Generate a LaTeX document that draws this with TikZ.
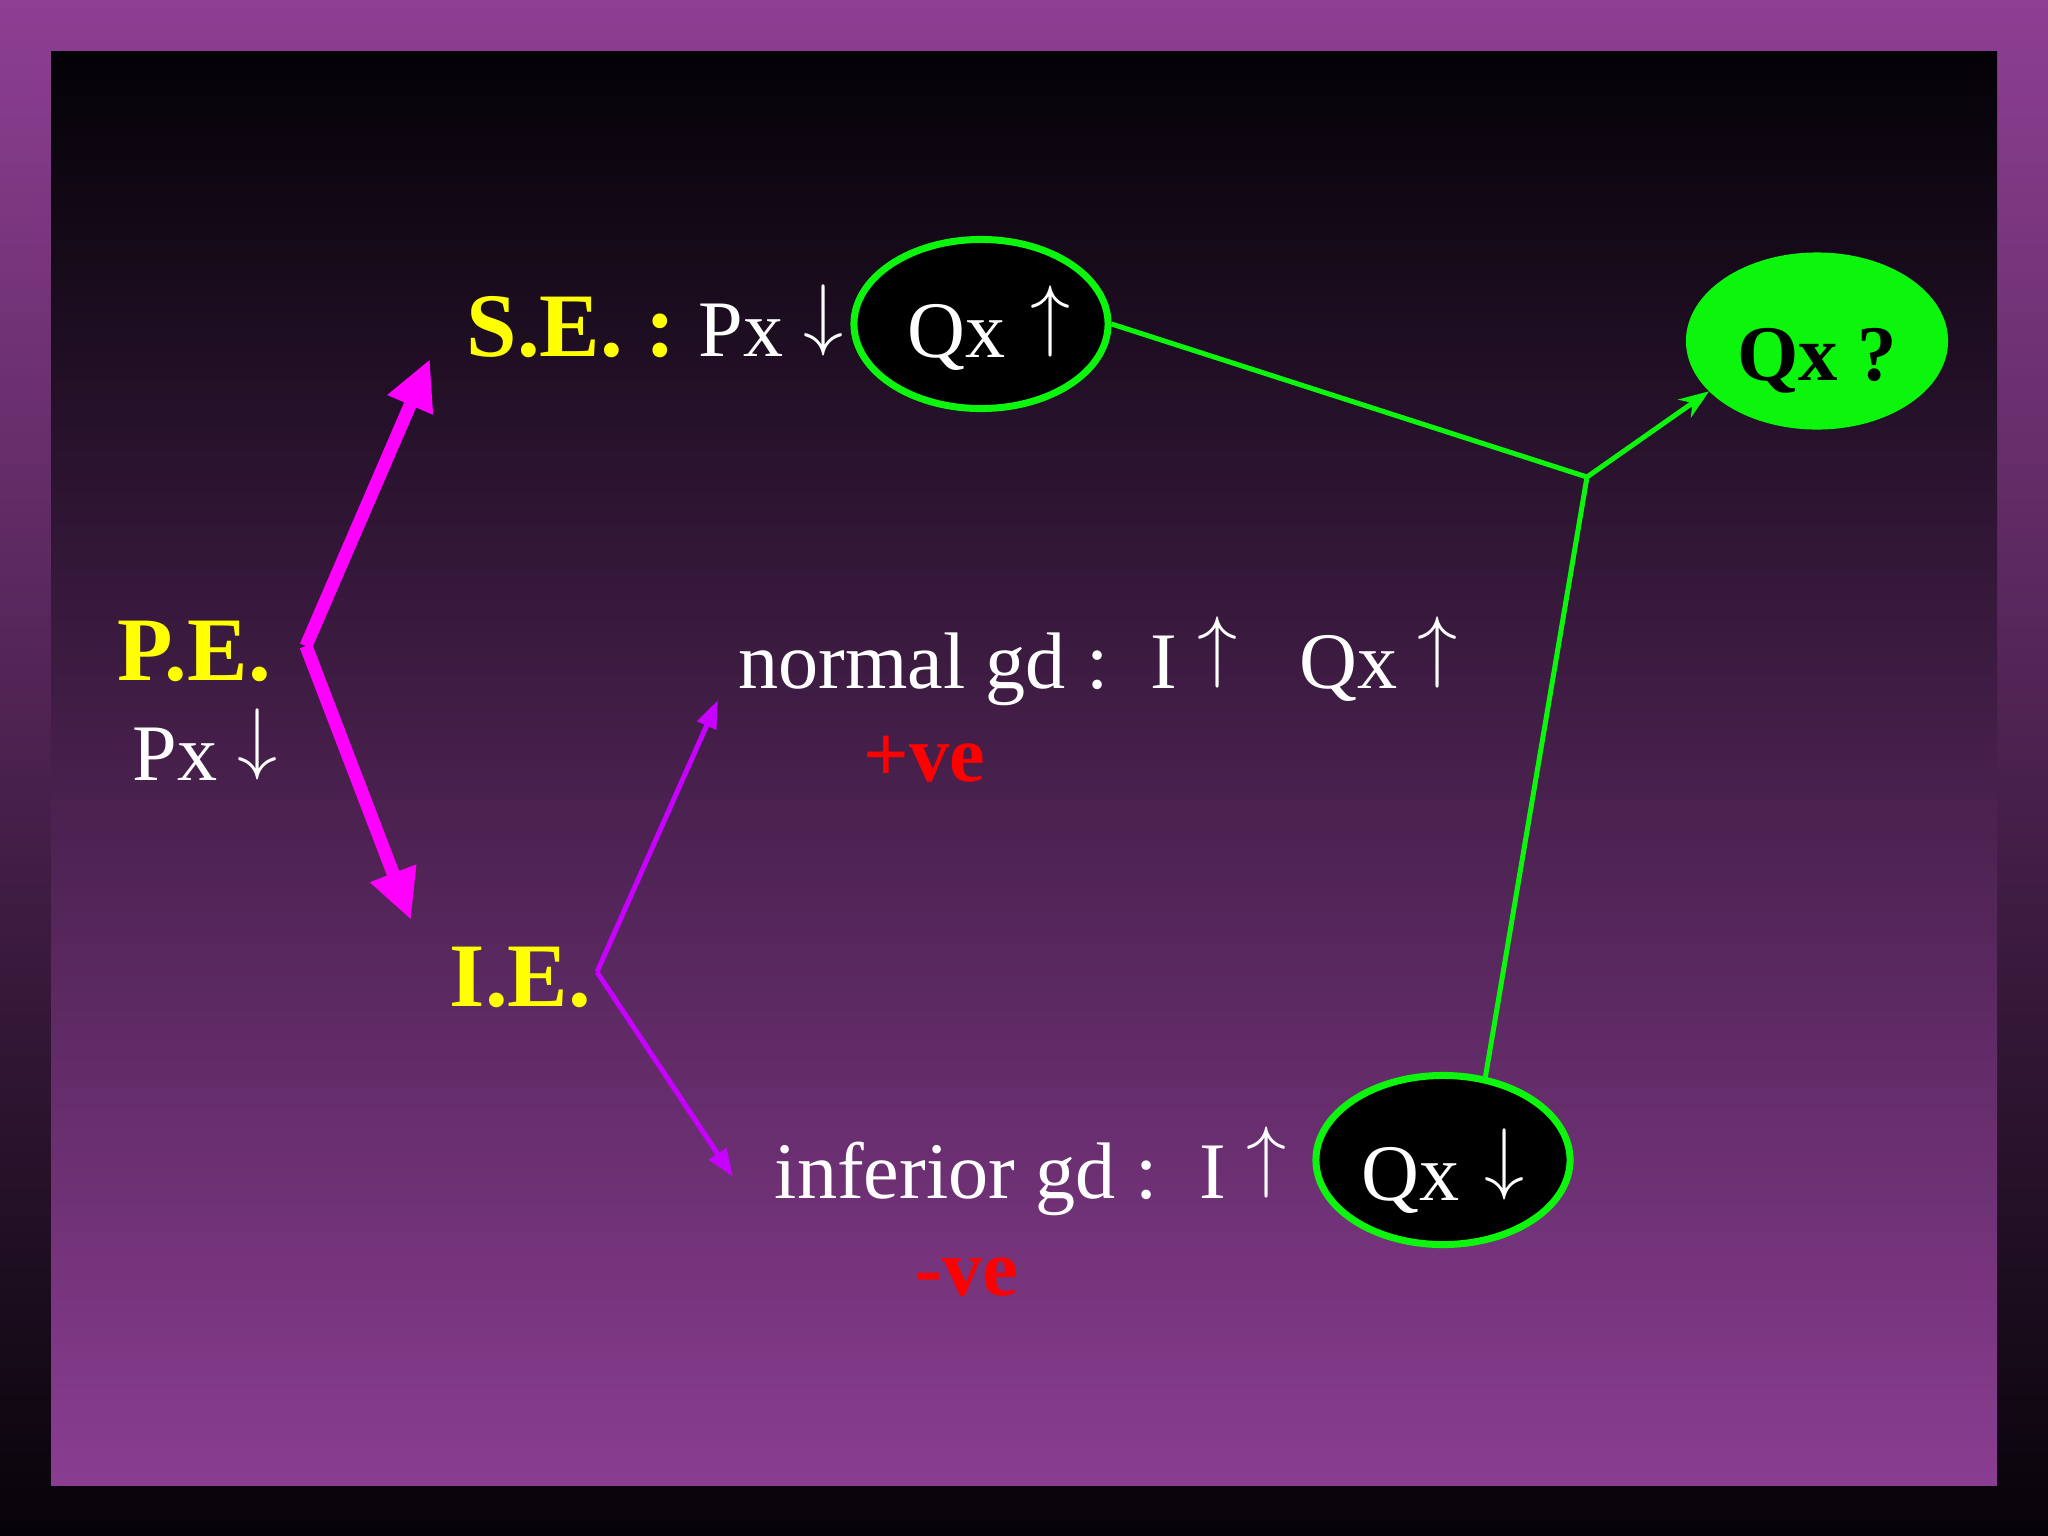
\RequirePackage{fix-cm}
\documentclass[tikz,border=0pt]{standalone}
\usepackage{fontspec}
\setmainfont{Liberation Serif}
\usetikzlibrary{arrows.meta,shapes.geometric}
\definecolor{outertop}{HTML}{8E3F93}
\definecolor{outerbot}{HTML}{060308}
\definecolor{innertop}{HTML}{030206}
\definecolor{innerbot}{HTML}{8A3D91}
\definecolor{qgreen}{HTML}{0CF50C}
\definecolor{pemag}{HTML}{FF00FF}
\definecolor{ieviolet}{HTML}{C800FF}
\definecolor{ylw}{HTML}{FFFF00}
\definecolor{rd}{HTML}{FF0000}
\newcommand\uar{\raisebox{0.194em}{$\uparrow$}}
\newcommand\dar{\raisebox{0.194em}{$\downarrow$}}
\begin{document}
\begin{tikzpicture}[x=0.01cm,y=-0.01cm,
  wtext/.style={font=\fontsize{22.8}{27}\selectfont, text=white, inner sep=0pt, anchor=base west},
  ytext/.style={font=\fontsize{25.8}{30}\selectfont\bfseries, text=ylw, inner sep=0pt, anchor=base west},
  rtext/.style={font=\fontsize{22.8}{27}\selectfont\bfseries, text=rd, inner sep=0pt, anchor=base west},
  qoval/.style={ellipse, draw=qgreen, line width=0.07cm, fill=black, text=white, inner sep=0pt,
    font=\fontsize{22.8}{27}\selectfont, minimum width=2.54cm, minimum height=1.69cm, text depth=0cm},
  qask/.style={ellipse, fill=qgreen, text=black, inner sep=0pt, outer sep=0pt,
    font=\fontsize{22.4}{26}\selectfont\bfseries, minimum width=2.62cm, minimum height=1.77cm,
    text height=0.78cm, text depth=0cm},
  pearrow/.style={draw=pemag, line width=0.13cm, -{Triangle[length=0.5cm,width=0.46cm]}},
  iearrow/.style={draw=ieviolet, line width=0.05cm, -{Triangle[length=0.28cm,width=0.2cm]}},
  glink/.style={draw=qgreen, line width=0.05cm},
]
\useasboundingbox (0,0) rectangle (2048,1536);
% backgrounds
\shade[top color=outertop, bottom color=outerbot] (0,0) rectangle (2048,1536);
\shade[top color=innertop, bottom color=innerbot] (51,51) rectangle (1997,1485);

% texts
\node[ytext] (se) at (466,356) {S.E. :\ {\fontsize{22.8}{27}\mdseries\selectfont\color{white}Px \dar}};
\node[ytext] (pe) at (117,680) {P.E.};
\node[wtext] (pepx) at (132,780) {Px \dar};
\node[ytext] (ie) at (449,1006) {I.E.};
\node[wtext] (ngd) at (738,688) {normal gd :\hspace{0.42cm}I \uar\hspace{0.62cm}Qx \uar};
\node[rtext] (pve) at (863,781) {+ve};
\node[wtext] (igd) at (774,1198) {inferior gd :\hspace{0.42cm}I \uar};
\node[rtext] (nve) at (915,1295) {-ve};

% ovals
\node[qoval, text height=0.66cm] (e1) at (981,324) {\hspace{0.16cm}Qx\hspace{0.05cm} \uar};
\node[qoval, text height=0.80cm] (e2) at (1443,1160) {Qx\hspace{0.05cm} \dar\hspace{0.16cm}};
\node[qask] (qq) at (1817,341) {Qx ?};

% magenta arrows from P.E.
\coordinate (pev) at (306,646);
\coordinate (setip) at (430,359);
\coordinate (ietip) at (411,920);
\draw[pearrow] (pev) -- (setip);
\draw[pearrow] (pev) -- (ietip);

% violet arrows from I.E.
\coordinate (iev) at (597,972);
\coordinate (ntip) at (718,700);
\coordinate (itip) at (733,1177);
\draw[iearrow] (iev) -- (ntip);
\draw[iearrow] (iev) -- (itip);

% green links
\coordinate (J) at (1587,477);
\draw[glink] (e1.east) -- (J);
\draw[glink] (e2.63) -- (J);
\draw[glink, -{Stealth[length=0.3cm,width=0.22cm]}] (J) -- (qq.205);
\end{tikzpicture}
\end{document}
